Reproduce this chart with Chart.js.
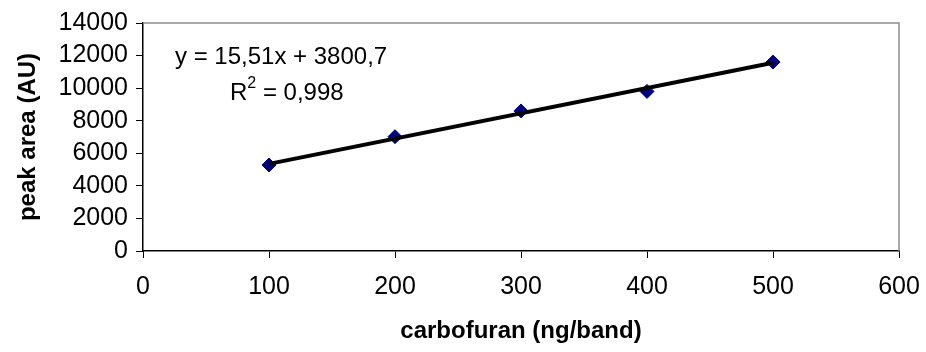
<!DOCTYPE html>
<html>
<head>
    <title>Carbofuran calibration</title>
    <script src="https://cdn.jsdelivr.net/npm/chart.js"></script>
    <style>
        html, body { margin: 0; padding: 0; background: #fff; }
        #wrap { width: 926px; height: 352px; }
    </style>
</head>
<body>
    <div id="wrap">
        <canvas id="calChart" width="926" height="352"></canvas>
    </div>

    <script>
        // Measured points: amount applied per band vs. peak area
        const amounts = [100, 200, 300, 400, 500];
        const peakAreas = [5280, 7020, 8600, 9800, 11600];

        // Linear fit as given in the equation label
        const slope = 15.51;
        const intercept = 3800.7;
        const rSquared = '0,998';
        const fitRange = [100, 500];

        const xTicks = [0, 100, 200, 300, 400, 500, 600];
        const yTicks = [0, 2000, 4000, 6000, 8000, 10000, 12000, 14000];

        const FONT = "'Liberation Sans', Arial, sans-serif";

        const points = amounts.map((x, i) => ({ x: x, y: peakAreas[i] }));
        const fitLine = fitRange.map(x => ({ x: x, y: slope * x + intercept }));

        // gray frame on the top and right side of the plot area
        const plotFrame = {
            id: 'plotFrame',
            beforeDatasetsDraw(chart) {
                const { ctx, chartArea: a } = chart;
                ctx.save();
                ctx.strokeStyle = '#8c8c8c';
                ctx.lineWidth = 1.5;
                ctx.beginPath();
                ctx.moveTo(a.left, a.top);
                ctx.lineTo(a.right, a.top);
                ctx.lineTo(a.right, a.bottom);
                ctx.stroke();
                ctx.restore();
            }
        };

        // regression equation and R² text
        const fitLabel = {
            id: 'fitLabel',
            afterDatasetsDraw(chart) {
                const { ctx, chartArea: a } = chart;
                const fmt = v => String(v).replace('.', ',');
                ctx.save();
                ctx.fillStyle = '#000';
                ctx.textBaseline = 'middle';
                ctx.textAlign = 'left';
                ctx.font = '24px ' + FONT;
                ctx.fillText('y = ' + fmt(slope) + 'x + ' + fmt(intercept), a.left + 32, a.top + 34);

                let x = a.left + 87;
                const y = a.top + 70;
                ctx.fillText('R', x, y);
                x += ctx.measureText('R').width;
                ctx.font = '16px ' + FONT;
                ctx.fillText('2', x, y - 9);
                x += ctx.measureText('2').width;
                ctx.font = '24px ' + FONT;
                ctx.fillText(' = ' + rSquared, x, y);
                ctx.restore();
            }
        };

        const ctx = document.getElementById('calChart').getContext('2d');
        const calChart = new Chart(ctx, {
            type: 'scatter',
            data: {
                datasets: [{
                    label: 'fit',
                    type: 'line',
                    data: fitLine,
                    borderColor: '#000',
                    borderWidth: 4,
                    pointRadius: 0,
                    fill: false,
                }, {
                    label: 'peak area',
                    data: points,
                    pointStyle: 'rectRot',
                    pointRadius: 7,
                    pointHoverRadius: 7,
                    backgroundColor: '#000080',
                    borderColor: '#000080',
                    borderWidth: 1,
                }]
            },
            options: {
                responsive: false,
                animation: false,
                events: [],
                layout: { padding: { left: 0, right: 27, top: 23, bottom: 0 } },
                plugins: {
                    legend: { display: false },
                    tooltip: { enabled: false },
                },
                scales: {
                    x: {
                        type: 'linear',
                        min: xTicks[0],
                        max: xTicks[xTicks.length - 1],
                        afterBuildTicks: s => { s.ticks = xTicks.map(v => ({ value: v })); },
                        afterFit: s => {
                            s.height = 101;
                            s.paddingLeft = 0;
                            s.paddingRight = 0;
                        },
                        grid: { drawOnChartArea: false, drawTicks: true, tickLength: 7, color: '#000', lineWidth: 1 },
                        border: { display: true, color: '#000', width: 1.5 },
                        ticks: {
                            color: '#000',
                            padding: 14,
                            maxRotation: 0,
                            autoSkip: false,
                            font: { family: FONT, size: 25 },
                            callback: v => String(v),
                        },
                        title: {
                            display: true,
                            text: 'carbofuran (ng/band)',
                            color: '#000',
                            font: { family: FONT, size: 24, weight: 'bold' },
                            padding: { top: 0, bottom: 6 },
                        }
                    },
                    y: {
                        type: 'linear',
                        min: yTicks[0],
                        max: yTicks[yTicks.length - 1],
                        afterBuildTicks: s => { s.ticks = yTicks.map(v => ({ value: v })); },
                        afterFit: s => {
                            s.width = 143;
                            s.paddingTop = 0;
                            s.paddingBottom = 0;
                        },
                        grid: { drawOnChartArea: false, drawTicks: true, tickLength: 7, color: '#000', lineWidth: 1 },
                        border: { display: true, color: '#000', width: 1.5 },
                        ticks: {
                            color: '#000',
                            padding: 8,
                            autoSkip: false,
                            font: { family: FONT, size: 25 },
                            callback: v => String(v),
                        },
                        title: {
                            display: true,
                            text: 'peak area (AU)',
                            color: '#000',
                            font: { family: FONT, size: 24, weight: 'bold' },
                            padding: { top: 14, bottom: 0 },
                        }
                    }
                }
            },
            plugins: [plotFrame, fitLabel]
        });
    </script>
</body>
</html>
